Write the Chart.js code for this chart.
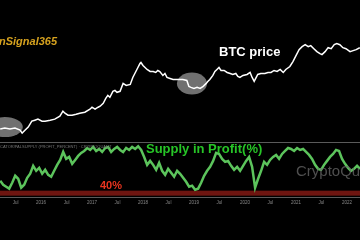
<!DOCTYPE html>
<html>
<head>
<meta charset="utf-8">
<script src="https://cdn.jsdelivr.net/npm/chart.js@4.4.0/dist/chart.umd.min.js"></script>
<style>
  html, body { margin: 0; padding: 0; background: #000; }
  #wrap { width: 360px; height: 240px; position: relative; }
</style>
</head>
<body>
<div id="wrap"><canvas id="btcChart"></canvas></div>
<script>
// BTC price (USD, log scale) by decimal year
const priceDates = [
  2015.20, 2015.29, 2015.39, 2015.49, 2015.59, 2015.63, 2015.69, 2015.75, 2015.82, 2015.88,
  2015.94, 2016.02, 2016.08, 2016.18, 2016.27, 2016.37, 2016.43, 2016.47, 2016.53, 2016.61,
  2016.69, 2016.76, 2016.86, 2016.96, 2017.00, 2017.06, 2017.12, 2017.16, 2017.22, 2017.27,
  2017.31, 2017.35, 2017.41, 2017.45, 2017.49, 2017.55, 2017.61, 2017.67, 2017.75, 2017.80,
  2017.86, 2017.90, 2017.94, 2017.96, 2018.00, 2018.04, 2018.08, 2018.14, 2018.20, 2018.25,
  2018.29, 2018.33, 2018.39, 2018.43, 2018.47, 2018.53, 2018.59, 2018.67, 2018.73, 2018.78,
  2018.86, 2018.90, 2018.94, 2019.00, 2019.06, 2019.12, 2019.18, 2019.24, 2019.27, 2019.31,
  2019.37, 2019.41, 2019.45, 2019.49, 2019.53, 2019.59, 2019.65, 2019.71, 2019.76, 2019.82,
  2019.86, 2019.90, 2019.96, 2020.04, 2020.10, 2020.14, 2020.18, 2020.22, 2020.25, 2020.31,
  2020.39, 2020.45, 2020.51, 2020.57, 2020.63, 2020.69, 2020.75, 2020.80, 2020.88, 2020.94,
  2021.00, 2021.06, 2021.12, 2021.18, 2021.24, 2021.29, 2021.35, 2021.41, 2021.47, 2021.51,
  2021.57, 2021.63, 2021.69, 2021.75, 2021.80, 2021.86, 2021.92, 2021.98, 2022.06, 2022.12,
  2022.18, 2022.25
];
const btcPrice = [
  240, 256, 240, 256, 225, 184, 225, 274, 406, 433,
  463, 406, 406, 433, 463, 564, 784, 687, 603, 603,
  644, 687, 734, 894, 1020, 894, 1020, 1090, 1327, 1845,
  2244, 1968, 2924, 3121, 2737, 2924, 4943, 4335, 4630, 7340,
  10900, 14170, 18440, 19800, 16170, 14170, 12430, 10900, 10900, 10200,
  11640, 10900, 8380, 9550, 7340, 6870, 6440, 6440, 6440, 6440,
  6030, 4060, 3800, 3560, 3800, 3560, 4060, 4943, 5640, 6440,
  8380, 10900, 12430, 14170, 11640, 11640, 10200, 9550, 8930, 9550,
  7830, 7340, 8380, 8930, 10200, 7340, 5640, 7340, 8930, 9550,
  9550, 10200, 10200, 11640, 10900, 12430, 10200, 12430, 15140, 21000,
  31200, 46300, 56400, 64400, 56400, 60300, 49400, 40600, 35600, 33300,
  40600, 52800, 49400, 64400, 69000, 64400, 52800, 49400, 40600, 43400,
  46300, 52800
];

// Supply in profit (%), sampled every ~3 weeks from early 2015
const supplyStart = 2015.2;
const supplyStep = 0.0588;
const supplyProfit = [
  53.3, 48.0, 45.3, 42.7, 50.7, 60.0, 56.0, 44.0, 48.0, 57.3,
  62.7, 73.3, 66.7, 70.7, 62.7, 68.0, 61.3, 58.7, 66.7, 74.7,
  81.3, 92.0, 82.7, 85.3, 76.0, 81.3, 86.7, 90.7, 93.3, 97.3,
  94.7, 98.7, 93.3, 96.0, 92.0, 97.3, 98.7, 92.0, 96.0, 98.7,
  94.7, 92.0, 97.3, 94.7, 98.7, 96.0, 99.6, 94.7, 85.3, 74.7,
  80.0, 74.7, 68.0, 77.3, 66.7, 61.3, 69.3, 64.0, 58.7, 66.7,
  62.7, 57.3, 52.0, 45.3, 46.7, 41.3, 42.7, 50.7, 60.0, 66.7,
  72.0, 80.0, 90.7, 89.3, 82.7, 78.7, 80.0, 73.3, 68.0, 72.0,
  66.7, 73.3, 80.0, 85.3, 72.0, 44.0, 56.0, 66.7, 78.7, 74.7,
  81.3, 85.3, 88.0, 82.7, 89.3, 93.3, 97.3, 96.0, 93.3, 97.3,
  94.7, 96.0, 92.0, 88.0, 82.7, 74.7, 69.3, 68.0, 74.7, 80.0,
  85.3, 89.3, 94.7, 93.3, 82.7, 76.0, 70.7, 66.7, 69.3, 73.3,
  69.3
];

// highlighted bottoms (date, price)
const markDates = [2015.29, 2018.96];
const markPrices = [274, 4940];
const markRadii = [[18, 10], [15, 11]];

const threshold = 40;      // red zone top
const zoneBottom = 33.3;
const panelTop = 105.3;    // top border of supply panel

const ctx = document.getElementById('btcChart').getContext('2d');

const overlay = {
  id: 'overlay',
  beforeDatasetsDraw(chart) {
    const c = chart.ctx;
    const xs = chart.scales.x, yp = chart.scales.yPrice, ys = chart.scales.ySupply;
    const area = chart.chartArea;
    c.save();
    // red zone
    c.fillStyle = '#6e1510';
    const t = ys.getPixelForValue(threshold), b = ys.getPixelForValue(zoneBottom);
    c.fillRect(area.left, t, area.right - area.left, b - t);
    // panel top border
    c.strokeStyle = '#5a5a5a';
    c.lineWidth = 1;
    const py = Math.round(ys.getPixelForValue(panelTop)) + 0.5;
    c.beginPath(); c.moveTo(area.left, py); c.lineTo(area.right, py); c.stroke();
    // ellipses
    c.fillStyle = 'rgba(150,150,150,0.75)';
    markDates.forEach((d, i) => {
      c.beginPath();
      c.ellipse(xs.getPixelForValue(d), yp.getPixelForValue(markPrices[i]),
        markRadii[i][0], markRadii[i][1], 0, 0, Math.PI * 2);
      c.fill();
    });
    c.restore();
  },
  afterDatasetsDraw(chart) {
    const c = chart.ctx;
    c.save();
    c.textBaseline = 'middle';
    c.textAlign = 'left';
    c.fillStyle = '#d6a21f';
    c.font = 'italic bold 11px "Liberation Sans", Arial, sans-serif';
    c.fillText('nSignal365', -1, 42);
    c.fillStyle = '#ffffff';
    c.font = 'bold 13px "Liberation Sans", Arial, sans-serif';
    c.fillText('BTC price', 219, 52);
    c.fillStyle = '#27c427';
    c.fillText('Supply in Profit(%)', 146, 149);
    c.fillStyle = 'rgba(105,105,105,0.75)';
    c.font = '15px "Liberation Sans", Arial, sans-serif';
    c.fillText('CryptoQuant', 296, 172);
    c.fillStyle = '#777';
    c.font = '4px "Liberation Sans", Arial, sans-serif';
    c.fillText('CATOR/PALSUPPLY (PROFIT_PERCENT) · CRYPTOQUANT', 0, 147);
    c.fillStyle = '#e8341f';
    c.textAlign = 'center';
    c.font = 'bold 11px "Liberation Sans", Arial, sans-serif';
    c.fillText('40%', 111, 186);
    c.restore();
  }
};

new Chart(ctx, {
  type: 'line',
  data: {
    datasets: [{
      label: 'Supply in Profit',
      data: supplyProfit.map((v, i) => ({ x: supplyStart + i * supplyStep, y: v })),
      yAxisID: 'ySupply',
      borderColor: '#5cc45c',
      borderWidth: 2.5,
      pointRadius: 0,
      tension: 0,
    }, {
      label: 'BTC price',
      data: priceDates.map((d, i) => ({ x: d, y: btcPrice[i] })),
      yAxisID: 'yPrice',
      borderColor: '#ffffff',
      borderWidth: 1.5,
      pointRadius: 0,
      tension: 0,
    }]
  },
  options: {
    responsive: true,
    maintainAspectRatio: false,
    animation: false,
    layout: { padding: { left: 0, right: 0, top: 0, bottom: 33 } },
    plugins: { legend: { display: false }, tooltip: { enabled: false } },
    scales: {
      x: {
        type: 'linear',
        min: 2015.196,
        max: 2022.255,
        grid: { display: false, drawTicks: false },
        border: { display: true, color: '#5a5a5a', width: 1 },
        ticks: {
          stepSize: 0.5,
          includeBounds: false,
          autoSkip: false,
          maxRotation: 0,
          padding: 2,
          color: '#888',
          font: { size: 4.5 },
          callback: v => Math.abs(v - Math.round(v)) < 0.01 ? String(Math.round(v)) : 'Jul'
        }
      },
      yPrice: { type: 'logarithmic', display: false, min: 2.56, max: 1242000 },
      ySupply: { type: 'linear', display: false, min: 30.7, max: 296 }
    }
  },
  plugins: [overlay]
});
</script>
</body>
</html>
